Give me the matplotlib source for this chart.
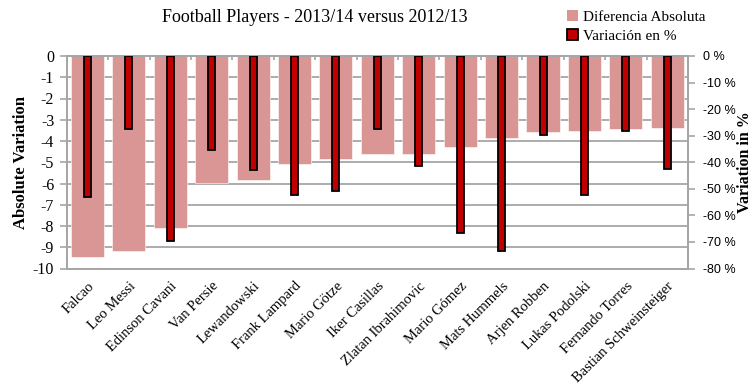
import numpy as np
import matplotlib
matplotlib.use("Agg")
import matplotlib.pyplot as plt
from matplotlib.patches import Patch

# ---- data ----
players = ['Falcao', 'Leo Messi', 'Edinson Cavani', 'Van Persie', 'Lewandowski',
           'Frank Lampard', 'Mario Götze', 'Iker Casillas', 'Zlatan Ibrahimovic',
           'Mario Gómez', 'Mats Hummels', 'Arjen Robben', 'Lukas Podolski',
           'Fernando Torres', 'Bastian Schweinsteiger']
abs_diff = [-9.45, -9.2, -8.1, -5.97, -5.83, -5.09, -4.86, -4.62, -4.61,
            -4.26, -3.84, -3.57, -3.51, -3.43, -3.37]
pct_var = [-53.0, -27.3, -69.6, -35.4, -42.9, -52.5, -50.7, -27.6, -41.4,
           -66.7, -73.4, -29.7, -52.5, -28.1, -42.5]

PINK = '#D99694'
RED = '#C00000'
GRID = '#A6A6A6'
serif = 'Liberation Serif'
sans = 'Liberation Sans'

fig = plt.figure(figsize=(7.52, 3.85), dpi=100)
ax = fig.add_axes([66.7 / 752, 1 - 268.5 / 385, (688 - 66.7) / 752, (268.5 - 56) / 385])
x = np.arange(len(players))

# absolute difference (left axis)
ax.bar(x, abs_diff, width=0.8, color=PINK, edgecolor='white', linewidth=0.4, zorder=2)
ax.set_xlim(-0.5, len(players) - 0.5)
ax.set_ylim(-10, 0)
ax.set_yticks(np.arange(-10, 1, 1))
ax.set_yticklabels([str(v) for v in range(-10, 1)], fontfamily=serif, fontsize=11.5)
ax.yaxis.grid(True, color=GRID, linewidth=1.3)
ax.set_axisbelow(True)
ax.tick_params(axis='y', direction='out', length=5, color=GRID, width=1.2, pad=4)

# category labels at the bottom, separator ticks at the top
ax.set_xticks(x)
ax.set_xticklabels(players, rotation=45, ha='right', va='top', rotation_mode='anchor',
                   fontfamily=serif, fontsize=10.5)
ax.tick_params(axis='x', which='major', length=0, pad=8)
ax.set_xticks(np.arange(0.5, len(players) - 1, 1), minor=True)
ax.tick_params(axis='x', which='minor', bottom=False, top=True, direction='in',
               length=3, color=GRID, width=1.2)
for s in ax.spines.values():
    s.set_color(GRID)
    s.set_linewidth(1.3)

ax.set_ylabel('Absolute Variation', fontfamily=serif, fontweight='bold', fontsize=12,
              labelpad=3)

# percentage variation (right axis)
ax2 = ax.twinx()
ax2.bar(x, pct_var, width=0.17, color=RED, edgecolor='black', linewidth=1.3, zorder=3)
ax2.set_ylim(-80, 0)
ax2.set_yticks(np.arange(-80, 1, 10))
ax2.set_yticklabels([f'{v} %' for v in range(-80, 1, 10)], fontfamily=sans, fontsize=9)
ax2.tick_params(axis='y', direction='out', length=5, color=GRID, width=1.2, pad=6)
for s in ax2.spines.values():
    s.set_color(GRID)
    s.set_linewidth(1.3)
ax2.set_ylabel('Variation in %', fontfamily=serif, fontweight='bold', fontsize=11.5,
               rotation=90, labelpad=1)

fig.text(315 / 752, 1 - 17 / 385, 'Football Players - 2013/14 versus 2012/13',
         ha='center', va='center', fontfamily=serif, fontsize=13)

handles = [Patch(facecolor=PINK, edgecolor='none'),
           Patch(facecolor=RED, edgecolor='black', linewidth=1.3)]
fig.legend(handles, ['Diferencia Absoluta', 'Variación en %'], loc='upper left',
           bbox_to_anchor=(553 / 752, 1.01), frameon=False, handlelength=0.75,
           handleheight=0.75, handletextpad=0.3, labelspacing=0.35,
           prop={'family': serif, 'size': 11})

fig.savefig('out.png', dpi=100)
